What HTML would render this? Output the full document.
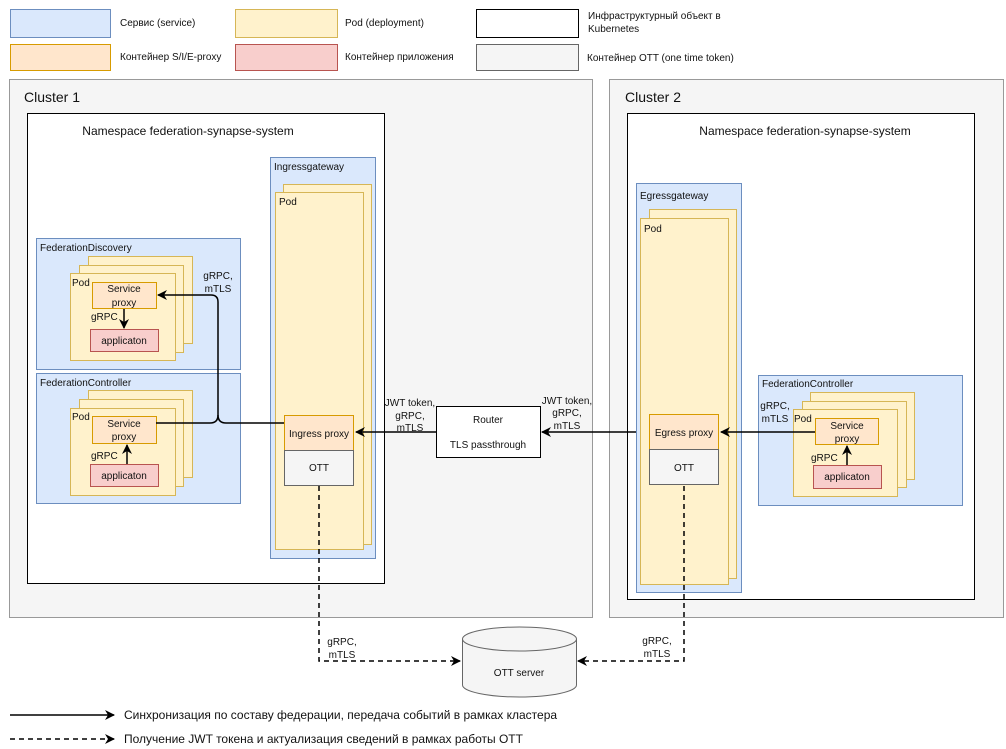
<!DOCTYPE html>
<html><head><meta charset="utf-8"><style>
html,body{margin:0;padding:0;background:#fff;}
svg{display:block;font-family:"Liberation Sans",Arial,sans-serif;}
text{fill:#111;}
</style></head><body>
<svg width="1006" height="749" viewBox="0 0 1006 749" xmlns="http://www.w3.org/2000/svg">
<defs>
<marker id="ah" markerWidth="10" markerHeight="10" refX="9" refY="5" orient="auto" markerUnits="userSpaceOnUse">
<path d="M0,0 L10,5 L0,10 L3,5 Z" fill="#000"/></marker>
</defs>
<!-- legend -->
<g font-size="10">
<rect x="10.5" y="9.5" width="100" height="28" fill="#dae8fc" stroke="#6c8ebf"/>
<text x="120" y="26">Сервис (service)</text>
<rect x="235.5" y="9.5" width="102" height="28" fill="#fff2cc" stroke="#d6b656"/>
<text x="345" y="26">Pod (deployment)</text>
<rect x="476.5" y="9.5" width="102" height="28" fill="#fff" stroke="#000"/>
<text x="588" y="19">Инфраструктурный объект в</text>
<text x="588" y="32">Kubernetes</text>
<rect x="10.5" y="44.5" width="100" height="26" fill="#ffe6cc" stroke="#d79b00"/>
<text x="120" y="60">Контейнер S/I/E-proxy</text>
<rect x="235.5" y="44.5" width="102" height="26" fill="#f8cecc" stroke="#b85450"/>
<text x="345" y="60">Контейнер приложения</text>
<rect x="476.5" y="44.5" width="102" height="26" fill="#f5f5f5" stroke="#666"/>
<text x="587" y="61">Контейнер OTT (one time token)</text>
</g>
<!-- clusters -->
<rect x="9.5" y="79.5" width="583" height="538" fill="#f5f5f5" stroke="#999"/>
<text x="24" y="102" font-size="14">Cluster 1</text>
<rect x="609.5" y="79.5" width="394" height="538" fill="#f5f5f5" stroke="#999"/>
<text x="625" y="102" font-size="14">Cluster 2</text>
<!-- namespaces -->
<rect x="27.5" y="113.5" width="357" height="470" fill="#fff" stroke="#000"/>
<text x="188" y="135" font-size="12" text-anchor="middle">Namespace federation-synapse-system</text>
<rect x="627.5" y="113.5" width="347" height="486" fill="#fff" stroke="#000"/>
<text x="805" y="135" font-size="12" text-anchor="middle">Namespace federation-synapse-system</text>
<g font-size="10">
<!-- Ingressgateway -->
<rect x="270.5" y="157.5" width="105" height="401" fill="#dae8fc" stroke="#6c8ebf"/>
<text x="274" y="170">Ingressgateway</text>
<rect x="283.5" y="184.5" width="88" height="360" fill="#fff2cc" stroke="#d6b656"/>
<rect x="275.5" y="192.5" width="88" height="357" fill="#fff2cc" stroke="#d6b656"/>
<text x="279" y="205">Pod</text>
<rect x="284.5" y="415.5" width="69" height="35" fill="#ffe6cc" stroke="#d79b00"/>
<text x="319" y="437" text-anchor="middle">Ingress proxy</text>
<rect x="284.5" y="450.5" width="69" height="35" fill="#f5f5f5" stroke="#666"/>
<text x="319" y="471" text-anchor="middle" fill="#333">OTT</text>
<!-- FederationDiscovery -->
<rect x="36.5" y="238.5" width="204" height="131" fill="#dae8fc" stroke="#6c8ebf"/>
<text x="40" y="251">FederationDiscovery</text>
<rect x="88.5" y="256.5" width="104" height="87" fill="#fff2cc" stroke="#d6b656"/>
<rect x="79.5" y="265.5" width="104" height="87" fill="#fff2cc" stroke="#d6b656"/>
<rect x="70.5" y="273.5" width="105" height="87" fill="#fff2cc" stroke="#d6b656"/>
<text x="72" y="286">Pod</text>
<rect x="92.5" y="282.5" width="64" height="26" fill="#ffe6cc" stroke="#d79b00"/>
<text x="124" y="292" text-anchor="middle">Service</text>
<text x="124" y="306" text-anchor="middle">proxy</text>
<rect x="90.5" y="329.5" width="68" height="22" fill="#f8cecc" stroke="#b85450"/>
<text x="124" y="344" text-anchor="middle">applicaton</text>
<text x="91" y="320">gRPC</text>
<line x1="124" y1="309" x2="124" y2="328" stroke="#000" stroke-width="1.5" marker-end="url(#ah)"/>
<!-- FederationController 1 -->
<rect x="36.5" y="373.5" width="204" height="130" fill="#dae8fc" stroke="#6c8ebf"/>
<text x="40" y="386">FederationController</text>
<rect x="88.5" y="390.5" width="104" height="87" fill="#fff2cc" stroke="#d6b656"/>
<rect x="79.5" y="399.5" width="104" height="87" fill="#fff2cc" stroke="#d6b656"/>
<rect x="70.5" y="408.5" width="105" height="87" fill="#fff2cc" stroke="#d6b656"/>
<text x="72" y="420">Pod</text>
<rect x="92.5" y="416.5" width="64" height="27" fill="#ffe6cc" stroke="#d79b00"/>
<text x="124" y="427" text-anchor="middle">Service</text>
<text x="124" y="440" text-anchor="middle">proxy</text>
<rect x="90.5" y="464.5" width="68" height="22" fill="#f8cecc" stroke="#b85450"/>
<text x="124" y="479" text-anchor="middle">applicaton</text>
<text x="91" y="459">gRPC</text>
<line x1="127" y1="464" x2="127" y2="445" stroke="#000" stroke-width="1.5" marker-end="url(#ah)"/>
<!-- connectors cluster1 -->
<path d="M284,423 L226,423 Q218,423 218,415 L218,302 Q218,295 211,295 L158,295" fill="none" stroke="#000" stroke-width="1.5" marker-end="url(#ah)"/>
<path d="M156,423 L210,423 Q218,423 218,415" fill="none" stroke="#000" stroke-width="1.5"/>
<text x="218" y="279" text-anchor="middle">gRPC,</text>
<text x="218" y="292" text-anchor="middle">mTLS</text>
<!-- Router -->
<rect x="436.5" y="406.5" width="104" height="51" fill="#fff" stroke="#000"/>
<text x="488" y="423" text-anchor="middle">Router</text>
<text x="488" y="448" text-anchor="middle">TLS passthrough</text>
<line x1="436" y1="432" x2="356" y2="432" stroke="#000" stroke-width="1.5" marker-end="url(#ah)"/>
<text x="410" y="406" text-anchor="middle">JWT token,</text>
<text x="410" y="419" text-anchor="middle">gRPC,</text>
<text x="410" y="431" text-anchor="middle">mTLS</text>
<line x1="650" y1="432" x2="542" y2="432" stroke="#000" stroke-width="1.5" marker-end="url(#ah)"/>
<text x="567" y="404" text-anchor="middle">JWT token,</text>
<text x="567" y="416" text-anchor="middle">gRPC,</text>
<text x="567" y="429" text-anchor="middle">mTLS</text>
<!-- Egressgateway -->
<rect x="636.5" y="183.5" width="105" height="409" fill="#dae8fc" stroke="#6c8ebf"/>
<text x="640" y="199">Egressgateway</text>
<rect x="649.5" y="209.5" width="87" height="369" fill="#fff2cc" stroke="#d6b656"/>
<rect x="640.5" y="218.5" width="88" height="366" fill="#fff2cc" stroke="#d6b656"/>
<text x="644" y="232">Pod</text>
<rect x="649.5" y="414.5" width="69" height="35" fill="#ffe6cc" stroke="#d79b00"/>
<text x="684" y="436" text-anchor="middle">Egress proxy</text>
<rect x="649.5" y="449.5" width="69" height="35" fill="#f5f5f5" stroke="#666"/>
<text x="684" y="471" text-anchor="middle" fill="#333">OTT</text>
<!-- FederationController 2 -->
<rect x="758.5" y="375.5" width="204" height="130" fill="#dae8fc" stroke="#6c8ebf"/>
<text x="762" y="387">FederationController</text>
<rect x="810.5" y="392.5" width="104" height="87" fill="#fff2cc" stroke="#d6b656"/>
<rect x="802.5" y="401.5" width="104" height="86" fill="#fff2cc" stroke="#d6b656"/>
<rect x="793.5" y="409.5" width="104" height="87" fill="#fff2cc" stroke="#d6b656"/>
<text x="794" y="422">Pod</text>
<rect x="815.5" y="418.5" width="63" height="26" fill="#ffe6cc" stroke="#d79b00"/>
<text x="847" y="429" text-anchor="middle">Service</text>
<text x="847" y="442" text-anchor="middle">proxy</text>
<rect x="813.5" y="465.5" width="68" height="23" fill="#f8cecc" stroke="#b85450"/>
<text x="847" y="480" text-anchor="middle">applicaton</text>
<text x="811" y="461">gRPC</text>
<line x1="847" y1="465" x2="847" y2="446" stroke="#000" stroke-width="1.5" marker-end="url(#ah)"/>
<line x1="815" y1="432" x2="721" y2="432" stroke="#000" stroke-width="1.5" marker-end="url(#ah)"/>
<text x="775" y="409" text-anchor="middle">gRPC,</text>
<text x="775" y="422" text-anchor="middle">mTLS</text>
<!-- OTT server -->
<path d="M462.5,639 L462.5,685 A57,12 0 0 0 576.5,685 L576.5,639" fill="#f5f5f5" stroke="#666"/>
<ellipse cx="519.5" cy="639" rx="57" ry="12" fill="#f5f5f5" stroke="#666"/>
<text x="519" y="676" text-anchor="middle" fill="#333">OTT server</text>
<path d="M319,486 L319,661 L460,661" fill="none" stroke="#000" stroke-width="1.5" stroke-dasharray="5,4" marker-end="url(#ah)"/>
<text x="342" y="645" text-anchor="middle">gRPC,</text>
<text x="342" y="658" text-anchor="middle">mTLS</text>
<path d="M684,486 L684,661 L578,661" fill="none" stroke="#000" stroke-width="1.5" stroke-dasharray="5,4" marker-end="url(#ah)"/>
<text x="657" y="644" text-anchor="middle">gRPC,</text>
<text x="657" y="657" text-anchor="middle">mTLS</text>
</g>
<!-- bottom legend -->
<line x1="10" y1="715" x2="114" y2="715" stroke="#000" stroke-width="1.5" marker-end="url(#ah)"/>
<text x="124" y="719" font-size="12">Синхронизация по составу федерации, передача событий в рамках кластера</text>
<line x1="10" y1="739" x2="114" y2="739" stroke="#000" stroke-width="1.5" stroke-dasharray="5,4" marker-end="url(#ah)"/>
<text x="124" y="743" font-size="12">Получение JWT токена и актуализация сведений в рамках работы OTT</text>
</svg>
</body></html>
